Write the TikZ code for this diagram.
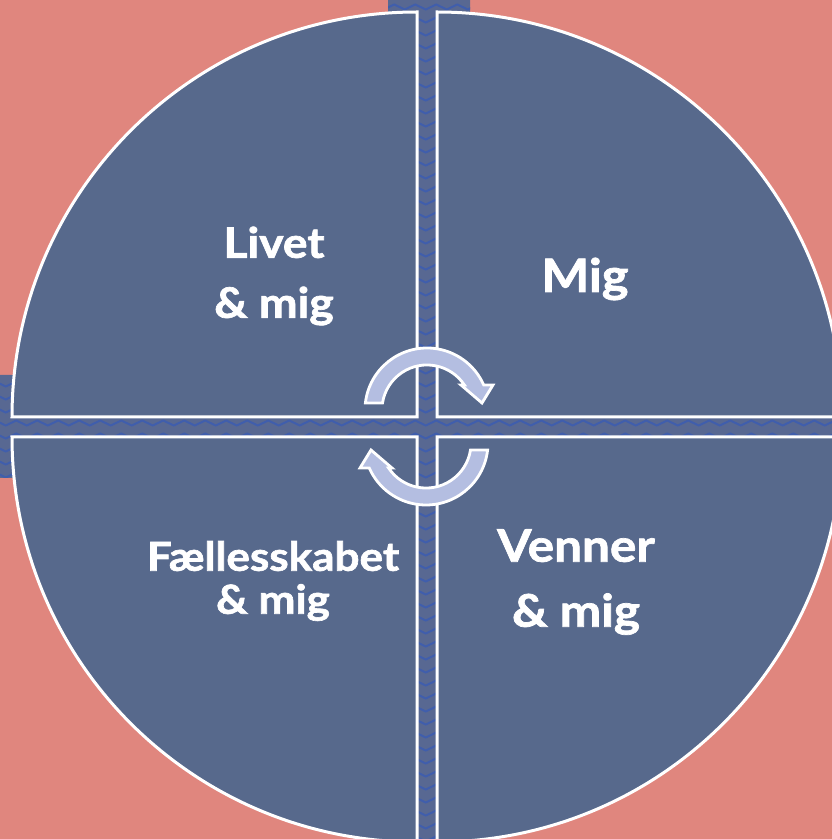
\documentclass[tikz,border=0pt]{standalone}
\usepackage{fontspec}
\setmainfont{Lato}
\newfontfamily\quadfont{Lato}[FakeStretch=1.1, BoldFeatures={FakeBold=1.6}]
\usetikzlibrary{decorations.pathmorphing}

\definecolor{salmon}{RGB}{224,134,126}
\definecolor{slate}{RGB}{87,105,140}
\definecolor{crossbase}{RGB}{88,104,146}
\definecolor{crosszig}{RGB}{64,94,172}
\definecolor{lavender}{RGB}{180,190,225}

\begin{document}
\begin{tikzpicture}[
    x=1pt, y=1pt,
    quarter/.style={fill=slate, draw=white, line width=3pt},
    turnarrow/.style={fill=lavender, draw=white, line width=2.8pt, line join=miter},
    zig/.style={draw=crosszig, line width=2pt, decorate,
                decoration={zigzag, segment length=21pt, amplitude=2.5pt}},
    lbl/.style={text=white, align=center, inner sep=0pt}
]
\useasboundingbox (0,0) rectangle (832,839);
\clip (0,0) rectangle (832,839);

% Baggrund
\fill[salmon] (0,0) rectangle (832,839);

% Kors bag cirklen
\begin{scope}
    \clip (388,0) rectangle (470,839) (0,361) rectangle (832,464);
    \fill[crossbase] (0,0) rectangle (832,839);
    \foreach \r in {0,13,...,845}
        \draw[zig] (-10,\r) -- (850,\r);
\end{scope}

% Kvadranter
\draw[quarter] (417,422) -- (12,422) arc (180:90:405) -- cycle;
\draw[quarter] (437,422) -- (842,422) arc (0:90:405) -- cycle;
\draw[quarter] (417,402) -- (12,402) arc (180:270:405) -- cycle;
\draw[quarter] (437,402) -- (842,402) arc (0:-90:405) -- cycle;

% Pile i midten
\draw[turnarrow] (427,429) ++(173.5:62) arc (173.5:23.8:62)
    -- (493,454) -- (482,436) -- (461,454) -- (464.4,454)
    arc (33.7:171.1:45) -- cycle;
\draw[turnarrow, rotate around={180:(426.5,412.5)}] (427,429) ++(173.5:62) arc (173.5:23.8:62)
    -- (493,454) -- (482,436) -- (461,454) -- (464.4,454)
    arc (33.7:171.1:45) -- cycle;

% Tekster
\node[lbl, font=\quadfont\bfseries\fontsize{42}{60}\selectfont] (livet) at (274,563)
    {Livet\\\& mig};
\node[lbl, font=\quadfont\bfseries\fontsize{46}{65}\selectfont] (mig) at (585,560)
    {Mig};
\node[lbl, font=\quadfont\bfseries\fontsize{40}{43}\selectfont] (faelles) at (273,258)
    {Fællesskabet\\\& mig};
\node[lbl, font=\quadfont\bfseries\fontsize{45}{65}\selectfont] (venner) at (576,257)
    {Venner\\\& mig};

\end{tikzpicture}
\end{document}
